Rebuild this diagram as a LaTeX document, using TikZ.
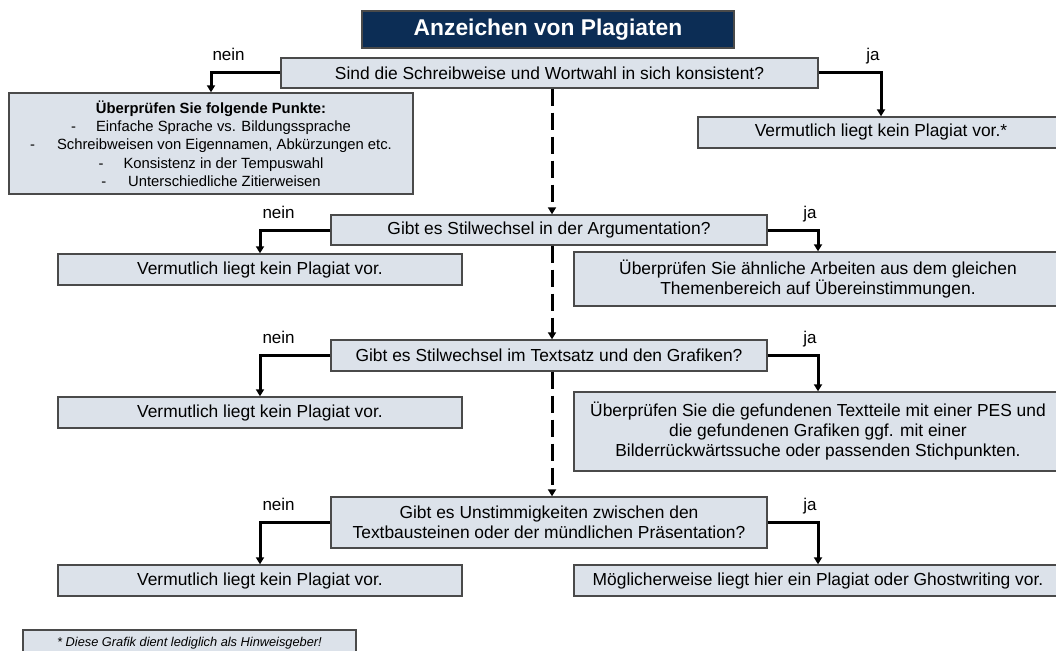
\documentclass[tikz,border=0pt]{standalone}
\usepackage{fontspec}
\setmainfont{Liberation Sans}
\usetikzlibrary{arrows.meta}
\definecolor{boxfill}{HTML}{DCE2EA}
\definecolor{boxdraw}{HTML}{4A4A4A}
\definecolor{navy}{HTML}{0C2D55}
\begin{document}
\begin{tikzpicture}[x=1pt,y=-1pt,
  box/.style={draw=boxdraw, line width=1.4pt, fill=boxfill, inner sep=0pt, align=center,
    font=\fontsize{17.4}{20}\selectfont},
  titlebox/.style={draw=boxdraw, line width=1.2pt, fill=navy, text=white, inner sep=0pt,
    font=\fontsize{22.8}{26}\selectfont\bfseries},
  listbox/.style={box, font=\fontsize{14.8}{18.3}\selectfont},
  notebox/.style={box, font=\fontsize{12.8}{15}\selectfont\itshape},
  lbl/.style={inner sep=0pt, font=\fontsize{17}{20}\selectfont},
  conn/.style={line width=3pt, -{Triangle[length=7pt,width=8pt]}},
  flowdash/.style={line width=3pt, dash pattern=on 17pt off 7pt, -{Triangle[length=7pt,width=8pt]}}
]
\useasboundingbox (0,0) rectangle (1056,650);

\node[titlebox, minimum width=372pt, minimum height=37pt] (title) at (548,29.5) {Anzeichen von Plagiaten};

\node[box, minimum width=537pt, minimum height=30pt] (q1) at (549.5,73) {Sind die Schreibweise und Wortwahl in sich konsistent?};
\node[listbox, minimum width=404pt, minimum height=101pt] (lb) at (211,143.5) {\textbf{Überprüfen Sie folgende Punkte:}\\
-\hspace{20pt}Einfache Sprache vs. Bildungssprache\\
-\hspace{22pt}Schreibweisen von Eigennamen, Abkürzungen etc.\\
-\hspace{20pt}Konsistenz in der Tempuswahl\\
-\hspace{22pt}Unterschiedliche Zitierweisen};
\node[box, minimum width=366pt, minimum height=31pt] (rb1) at (881,132.5) {Vermutlich liegt kein Plagiat vor.*};

\node[box, minimum width=436pt, minimum height=30pt] (q2) at (549,230) {Gibt es Stilwechsel in der Argumentation?};
\node[box, minimum width=404pt, minimum height=31pt] (nb2) at (260,269.5) {Vermutlich liegt kein Plagiat vor.};
\node[box, minimum width=488pt, minimum height=54pt] (jb2) at (818,279) {Überprüfen Sie ähnliche Arbeiten aus dem gleichen\\Themenbereich auf Übereinstimmungen.};

\node[box, minimum width=436pt, minimum height=31pt] (q3) at (549,355.5) {Gibt es Stilwechsel im Textsatz und den Grafiken?};
\node[box, minimum width=404pt, minimum height=31pt] (nb3) at (260,412.5) {Vermutlich liegt kein Plagiat vor.};
\node[box, minimum width=488pt, minimum height=79pt] (jb3) at (818,431.5) {Überprüfen Sie die gefundenen Textteile mit einer PES und\\die gefundenen Grafiken ggf. mit einer\\Bilderrückwärtssuche oder passenden Stichpunkten.};

\node[box, minimum width=436pt, minimum height=51pt] (q4) at (549,522.5) {Gibt es Unstimmigkeiten zwischen den\\Textbausteinen oder der mündlichen Präsentation?};
\node[box, minimum width=404pt, minimum height=31pt] (nb4) at (260,580.5) {Vermutlich liegt kein Plagiat vor.};
\node[box, minimum width=488pt, minimum height=31pt] (jb4) at (818,580.5) {Möglicherweise liegt hier ein Plagiat oder Ghostwriting vor.};

\node[notebox, minimum width=333pt, minimum height=26pt] (fn) at (189.5,643) {* Diese Grafik dient lediglich als Hinweisgeber!};

% connectors
\draw[conn] (q1.west) -| node[lbl, pos=0.5, anchor=base west, yshift=12pt] {nein} (lb.north);
\draw[conn] (q1.east) -| node[lbl, pos=0.5, anchor=base east, yshift=12pt] {ja} (rb1.north);
\draw[conn] (q2.west) -| node[lbl, pos=0.5, anchor=base west, xshift=1pt, yshift=12pt] {nein} (nb2.north);
\draw[conn] (q2.east) -| node[lbl, pos=0.5, anchor=base east, yshift=12pt] {ja} (jb2.north);
\draw[conn] (q3.west) -| node[lbl, pos=0.5, anchor=base west, xshift=1pt, yshift=12pt] {nein} (nb3.north);
\draw[conn] (q3.east) -| node[lbl, pos=0.5, anchor=base east, yshift=12pt] {ja} (jb3.north);
\draw[conn] (q4.west) -| node[lbl, pos=0.5, anchor=base west, xshift=1pt, yshift=12pt] {nein} (nb4.north);
\draw[conn] (q4.east) -| node[lbl, pos=0.5, anchor=base east, yshift=12pt] {ja} (jb4.north);

\draw[flowdash] ([xshift=2.5pt]q1.south) -- ([xshift=3pt]q2.north);
\draw[flowdash] ([xshift=3pt]q2.south) -- ([xshift=3pt]q3.north);
\draw[flowdash] ([xshift=3pt]q3.south) -- ([xshift=3pt]q4.north);
\end{tikzpicture}
\end{document}
